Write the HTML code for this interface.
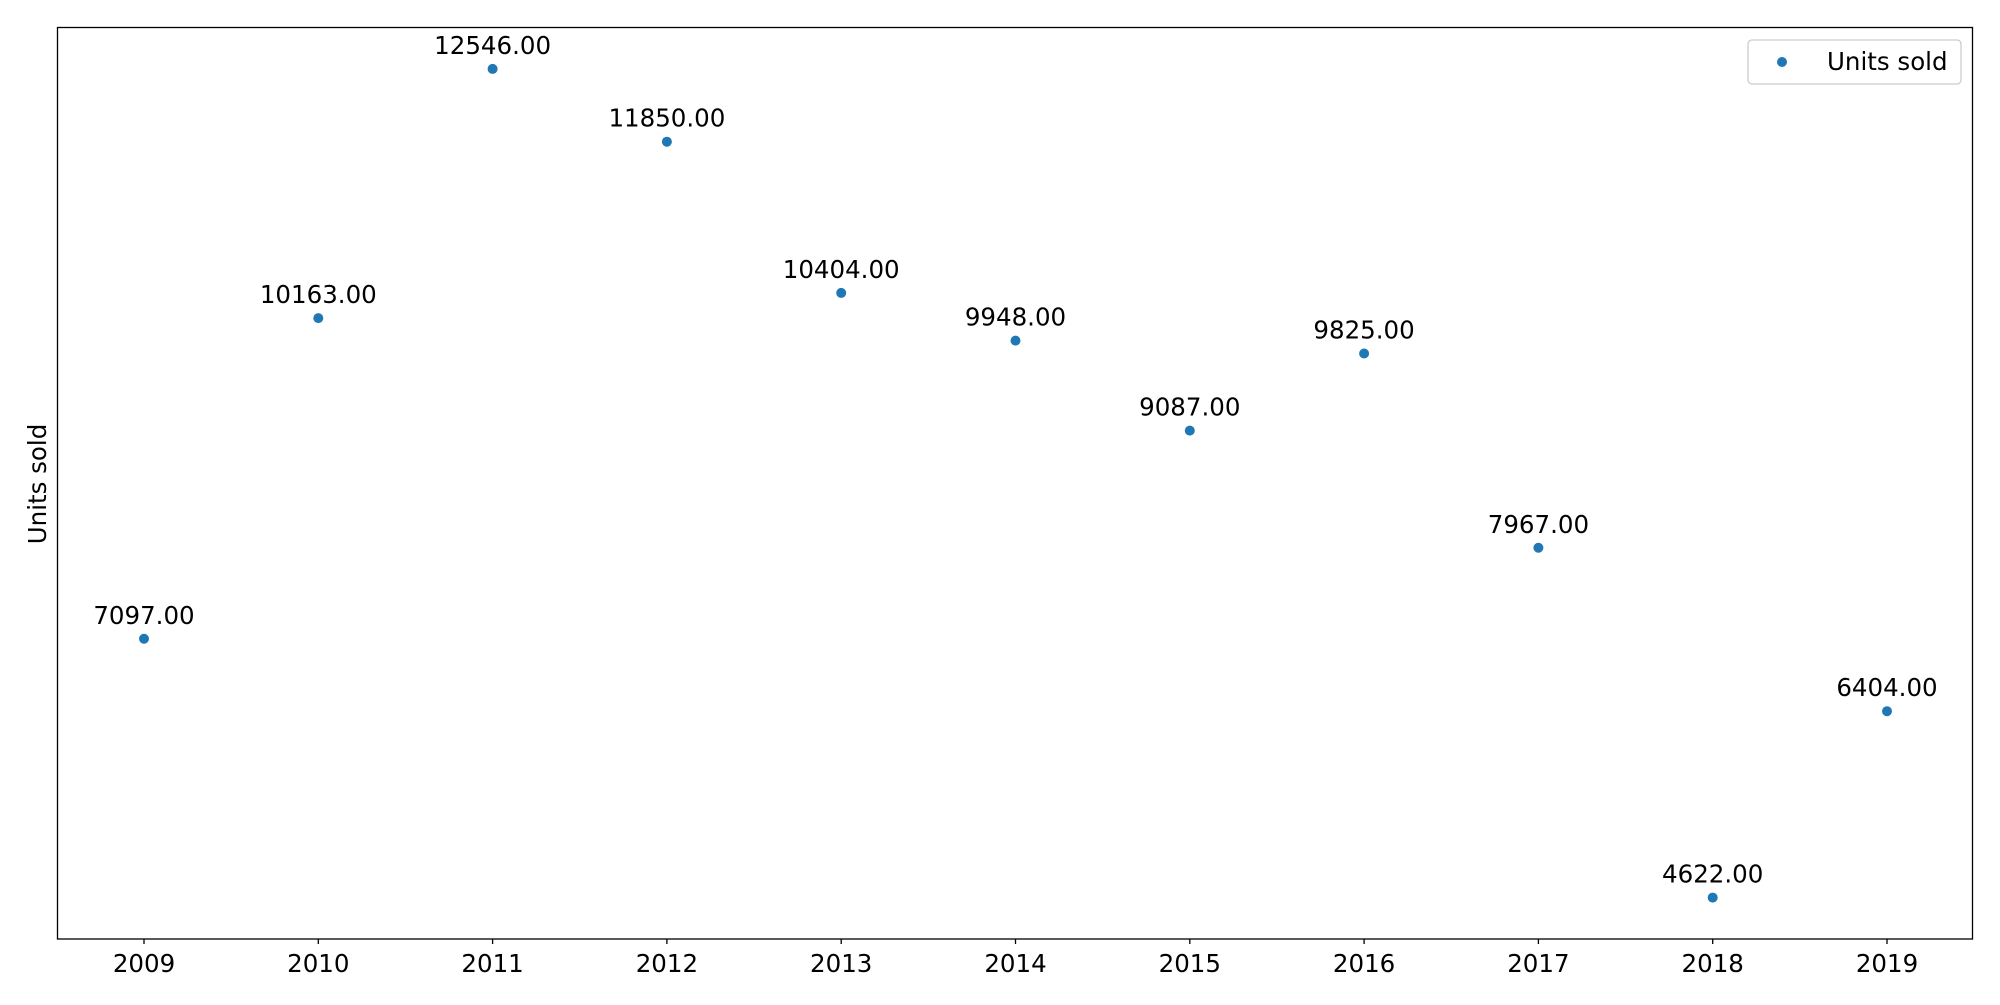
<!DOCTYPE html>
<html><head><meta charset="utf-8"><style>
body{margin:0;background:#fff;}
svg text{font-family:"DejaVu Sans","Liberation Sans",sans-serif;fill:#000;}
</style></head><body>
<svg id="chart" width="2000" height="1000" xmlns="http://www.w3.org/2000/svg">
<rect x="0" y="0" width="2000" height="1000" fill="#fff"/>
<g id="marks"></g>
<rect x="57.5" y="27.5" width="1915" height="911.5" fill="none" stroke="#000" stroke-width="1.3"/>
<text transform="translate(46,484) rotate(-90)" text-anchor="middle" font-size="24.5">Units sold</text>
<g>
<rect x="1748" y="40" width="213" height="44" rx="4" fill="#fff" stroke="#ccc" stroke-width="1.3"/>
<circle cx="1782" cy="62" r="5" fill="#1f77b4"/>
<text x="1827" y="70" font-size="24.5">Units sold</text>
</g>
</svg>
<script>
const years=[2009,2010,2011,2012,2013,2014,2015,2016,2017,2018,2019];
const values=[7097,10163,12546,11850,10404,9948,9087,9825,7967,4622,6404];
const NS='http://www.w3.org/2000/svg';
const L=57.5,R=1972.5,T=27.5,B=939;
const step=174.3;
function xs(i){return 144+i*step;}
const vmin=Math.min(...values),vmax=Math.max(...values),pad=(vmax-vmin)*0.05;
function ys(v){return B-(v-(vmin-pad))/((vmax+pad)-(vmin-pad))*(B-T);}
const g=document.getElementById('marks');
years.forEach((yr,i)=>{
  const x=xs(i);
  const t=document.createElementNS(NS,'line');
  t.setAttribute('x1',x);t.setAttribute('x2',x);t.setAttribute('y1',B);t.setAttribute('y2',B+5);
  t.setAttribute('stroke','#000');t.setAttribute('stroke-width','1.3');
  
  
  g.appendChild(t);
  const tl=document.createElementNS(NS,'text');
  tl.setAttribute('x',x);tl.setAttribute('y',B+33);tl.setAttribute('text-anchor','middle');tl.setAttribute('font-size','24.5');
  tl.textContent=yr;
  
  
  g.appendChild(tl);
  const y=ys(values[i]);
  const c=document.createElementNS(NS,'circle');
  c.setAttribute('cx',x);c.setAttribute('cy',y);c.setAttribute('r','5');c.setAttribute('fill','#1f77b4');
  
  
  g.appendChild(c);
  const vl=document.createElementNS(NS,'text');
  vl.setAttribute('x',x);vl.setAttribute('y',y-15);vl.setAttribute('text-anchor','middle');vl.setAttribute('font-size','24.5');
  vl.textContent=values[i].toFixed(2);
  
  
  g.appendChild(vl);
});
</script>
</body></html>
